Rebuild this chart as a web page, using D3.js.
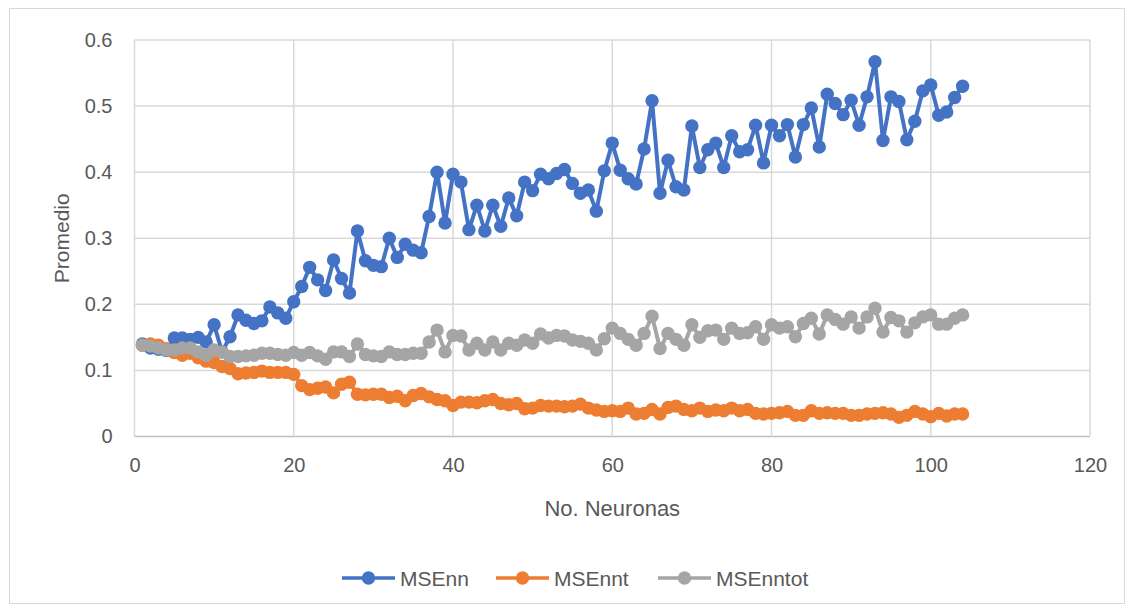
<!DOCTYPE html>
<html>
<head>
<meta charset="utf-8">
<script src="https://cdn.jsdelivr.net/npm/d3@7"></script>
<style>
  html, body { margin: 0; padding: 0; background: #fff; }
  svg { display: block; }
  text { font-family: "Liberation Sans", Arial, sans-serif; fill: #595959; }
</style>
</head>
<body>
<svg id="chart" width="1134" height="611"></svg>
<script>
// Number of neurons, 1..104
const neurons = [
  1,2,3,4,5,6,7,8,9,10,11,12,13,14,15,16,17,18,19,20,
  21,22,23,24,25,26,27,28,29,30,31,32,33,34,35,36,37,38,39,40,
  41,42,43,44,45,46,47,48,49,50,51,52,53,54,55,56,57,58,59,60,
  61,62,63,64,65,66,67,68,69,70,71,72,73,74,75,76,77,78,79,80,
  81,82,83,84,85,86,87,88,89,90,91,92,93,94,95,96,97,98,99,100,
  101,102,103,104
];

const mseNn = [
  0.140,0.134,0.132,0.130,0.149,0.149,0.147,0.150,0.143,0.169,
  0.128,0.151,0.184,0.176,0.171,0.175,0.196,0.187,0.179,0.204,
  0.227,0.256,0.237,0.221,0.267,0.239,0.217,0.311,0.266,0.259,
  0.257,0.300,0.271,0.291,0.282,0.278,0.333,0.400,0.323,0.397,
  0.385,0.313,0.350,0.311,0.350,0.318,0.361,0.334,0.385,0.372,
  0.397,0.390,0.398,0.404,0.383,0.368,0.373,0.341,0.402,0.444,
  0.403,0.390,0.382,0.435,0.508,0.368,0.418,0.378,0.373,0.470,
  0.407,0.434,0.444,0.407,0.455,0.431,0.434,0.471,0.414,0.471,
  0.455,0.472,0.423,0.472,0.497,0.438,0.518,0.504,0.487,0.509,
  0.471,0.514,0.567,0.448,0.514,0.507,0.449,0.477,0.523,0.532,
  0.486,0.491,0.513,0.530
];

const mseNnt = [
  0.138,0.140,0.138,0.133,0.127,0.123,0.126,0.119,0.114,0.112,
  0.106,0.103,0.095,0.096,0.097,0.099,0.097,0.097,0.097,0.094,
  0.077,0.071,0.073,0.075,0.066,0.079,0.082,0.064,0.063,0.064,
  0.064,0.059,0.061,0.054,0.062,0.065,0.060,0.056,0.054,0.047,
  0.052,0.052,0.051,0.054,0.056,0.050,0.048,0.050,0.042,0.043,
  0.047,0.046,0.046,0.045,0.046,0.049,0.043,0.040,0.038,0.039,
  0.038,0.043,0.034,0.035,0.041,0.034,0.044,0.046,0.041,0.039,
  0.043,0.038,0.040,0.039,0.043,0.039,0.041,0.035,0.034,0.035,
  0.036,0.038,0.032,0.032,0.039,0.035,0.036,0.035,0.035,0.032,
  0.032,0.034,0.035,0.036,0.034,0.029,0.032,0.038,0.034,0.030,
  0.035,0.031,0.034,0.034
];

const mseNntot = [
  0.138,0.137,0.134,0.131,0.131,0.134,0.134,0.128,0.123,0.131,
  0.128,0.121,0.121,0.122,0.123,0.126,0.126,0.124,0.123,0.127,
  0.123,0.127,0.122,0.117,0.128,0.128,0.121,0.140,0.124,0.122,
  0.121,0.128,0.124,0.124,0.126,0.126,0.143,0.161,0.128,0.153,
  0.152,0.131,0.141,0.131,0.143,0.131,0.141,0.138,0.146,0.141,
  0.155,0.149,0.153,0.152,0.146,0.144,0.141,0.131,0.148,0.164,
  0.156,0.147,0.138,0.156,0.182,0.133,0.156,0.147,0.138,0.169,
  0.150,0.160,0.161,0.147,0.164,0.156,0.157,0.166,0.147,0.169,
  0.164,0.166,0.151,0.171,0.179,0.155,0.184,0.177,0.170,0.181,
  0.164,0.181,0.194,0.158,0.180,0.175,0.158,0.172,0.181,0.184,
  0.170,0.170,0.179,0.184
];

const seriesNames = ["MSEnn", "MSEnnt", "MSEnntot"];
const seriesColors = ["#4472C4", "#ED7D31", "#A5A5A5"];
const xTicks = [0, 20, 40, 60, 80, 100, 120];
const yTicks = [0, 0.1, 0.2, 0.3, 0.4, 0.5, 0.6];

const series = [mseNn, mseNnt, mseNntot].map((vals, i) => ({
  name: seriesNames[i],
  color: seriesColors[i],
  points: neurons.map((n, j) => ({ n, v: vals[j] }))
}));

const svg = d3.select("#chart");

// chart frame
svg.append("rect")
  .attr("x", 9.5).attr("y", 8.5)
  .attr("width", 1115).attr("height", 595)
  .attr("fill", "#fff").attr("stroke", "#d9d9d9").attr("stroke-width", 1);

const x = d3.scaleLinear().domain([0, 120]).range([134.5, 1090]);
const y = d3.scaleLinear().domain([0, 0.6]).range([436.5, 40]);

// gridlines
const grid = svg.append("g");
grid.selectAll("line.h").data(yTicks).join("line")
  .attr("x1", x(0)).attr("x2", x(120))
  .attr("y1", d => y(d)).attr("y2", d => y(d))
  .attr("stroke", d => d === 0 ? "#bfbfbf" : "#d9d9d9").attr("stroke-width", 1.5);
grid.selectAll("line.v").data(xTicks).join("line")
  .attr("y1", y(0)).attr("y2", y(0.6))
  .attr("x1", d => x(d)).attr("x2", d => x(d))
  .attr("stroke", "#d9d9d9").attr("stroke-width", 1.5);

// axes (labels only)
const yAxis = svg.append("g")
  .attr("transform", `translate(${x(0)},0)`)
  .call(d3.axisLeft(y).tickValues(yTicks).tickSize(0).tickPadding(22)
    .tickFormat(d => d3.format("~g")(d)));
yAxis.select(".domain").remove();
yAxis.selectAll("text").attr("font-size", 20).style("font-family", "Liberation Sans, Arial, sans-serif").attr("fill", "#595959");

const xAxis = svg.append("g")
  .attr("transform", `translate(0,${y(0)})`)
  .call(d3.axisBottom(x).tickValues(xTicks).tickSize(0).tickPadding(21));
xAxis.select(".domain").remove();
xAxis.selectAll("text").attr("font-size", 20).style("font-family", "Liberation Sans, Arial, sans-serif").attr("fill", "#595959");

// axis titles
svg.append("text")
  .attr("transform", `translate(61,${(y(0) + y(0.6)) / 2}) rotate(-90)`)
  .attr("text-anchor", "middle").attr("dominant-baseline", "central")
  .attr("font-size", 21).text("Promedio");
svg.append("text")
  .attr("x", (x(0) + x(120)) / 2).attr("y", 508)
  .attr("text-anchor", "middle").attr("dominant-baseline", "central")
  .attr("font-size", 22).text("No. Neuronas");

// series
const line = d3.line().x(d => x(d.n)).y(d => y(d.v));
const gSeries = svg.append("g");
series.forEach(s => {
  const g = gSeries.append("g");
  g.append("path").datum(s.points)
    .attr("d", line).attr("fill", "none")
    .attr("stroke", s.color).attr("stroke-width", 4)
    .attr("stroke-linejoin", "round");
  g.selectAll("circle").data(s.points).join("circle")
    .attr("cx", d => x(d.n)).attr("cy", d => y(d.v))
    .attr("r", 6.7).attr("fill", s.color);
});

// legend
const legendX = [342, 496, 658];
const legend = svg.append("g");
series.forEach((s, i) => {
  const g = legend.append("g").attr("transform", `translate(${legendX[i]},578)`);
  g.append("line").attr("x1", 0).attr("x2", 53).attr("y1", 0).attr("y2", 0)
    .attr("stroke", s.color).attr("stroke-width", 3.5);
  g.append("circle").attr("cx", 26.5).attr("cy", 0).attr("r", 6.7).attr("fill", s.color);
  g.append("text").attr("x", 58).attr("y", 0)
    .attr("dominant-baseline", "central").attr("font-size", 21).text(s.name);
});
</script>
</body>
</html>
